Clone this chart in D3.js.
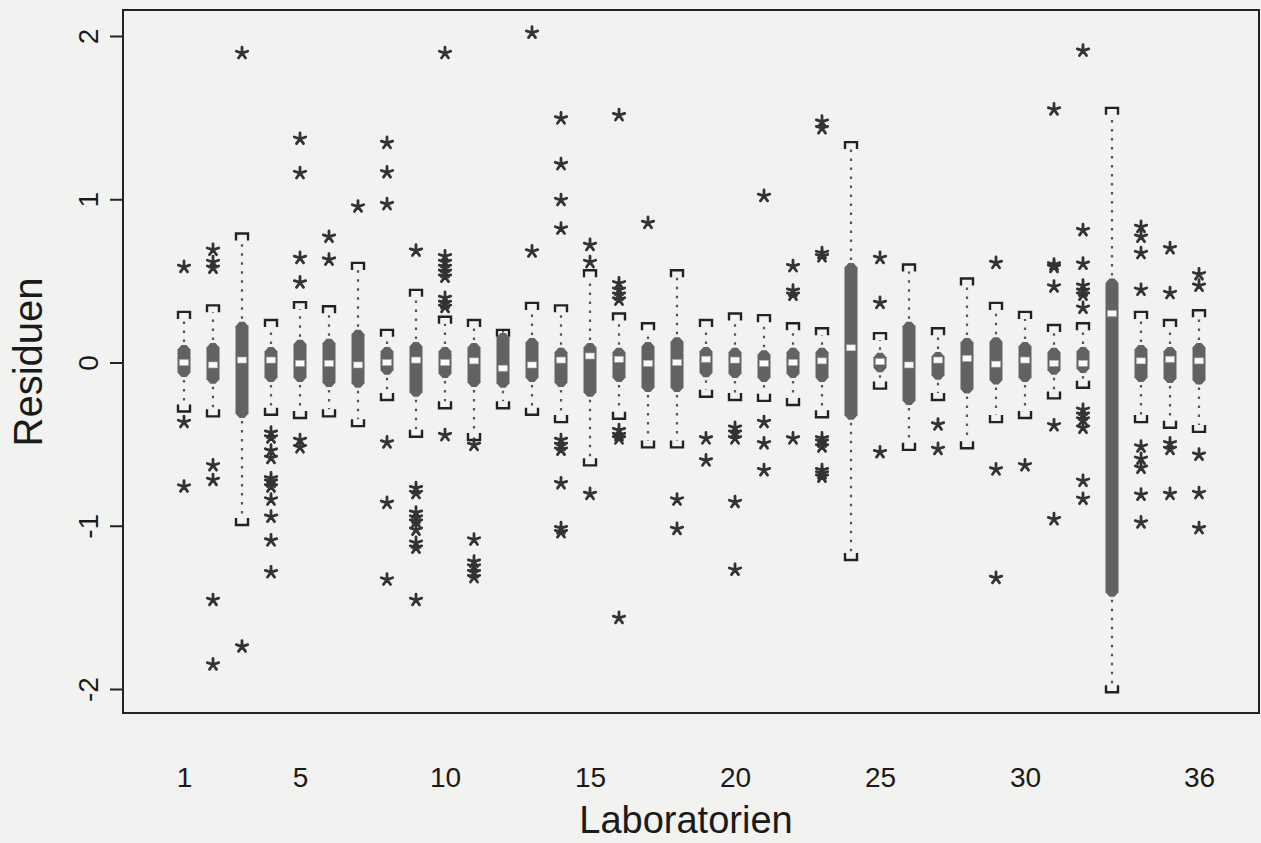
<!DOCTYPE html>
<html>
<head>
<meta charset="utf-8">
<script src="https://cdn.jsdelivr.net/npm/d3@7"></script>
<style>
  html, body { margin: 0; padding: 0; background: #f2f2f0; }
  svg { display: block; }
  text { font-family: "Liberation Sans", Arial, Helvetica, sans-serif; fill: #1a1a1a; }
</style>
</head>
<body>
<svg id="chart" width="1261" height="843"></svg>
<script>
// ---- data ----
const labs = d3.range(1, 37);
const q3  = [0.107,0.12,0.25,0.095,0.14,0.145,0.2,0.095,0.125,0.095,0.12,0.18,0.15,0.09,0.12,0.09,0.125,0.155,0.095,0.09,0.075,0.09,0.09,0.61,0.06,0.25,0.065,0.15,0.155,0.125,0.09,0.095,0.515,0.107,0.095,0.12];
const med = [0,-0.015,0.015,0.015,-0.005,-0.005,-0.015,0,0.015,0,0.01,-0.035,-0.015,0.015,0.04,0.02,-0.005,0,0.02,0.015,-0.005,0,0.01,0.09,0.005,-0.015,0.015,0.025,-0.01,0.015,-0.005,-0.005,0.3,0.01,0.02,0.01];
const q1  = [-0.089,-0.13,-0.34,-0.12,-0.12,-0.15,-0.155,-0.075,-0.21,-0.095,-0.15,-0.155,-0.12,-0.15,-0.21,-0.12,-0.18,-0.18,-0.09,-0.095,-0.12,-0.095,-0.12,-0.35,-0.06,-0.26,-0.105,-0.19,-0.135,-0.12,-0.075,-0.065,-1.435,-0.12,-0.125,-0.135];
const whiskHi = [0.31,0.35,0.79,0.26,0.37,0.345,0.61,0.2,0.445,0.28,0.26,0.2,0.365,0.35,0.565,0.3,0.24,0.565,0.26,0.3,0.29,0.24,0.21,1.35,0.18,0.6,0.21,0.515,0.365,0.31,0.23,0.24,1.56,0.31,0.26,0.32];
const whiskLo = [-0.3,-0.33,-0.995,-0.32,-0.34,-0.33,-0.39,-0.23,-0.455,-0.28,-0.475,-0.28,-0.32,-0.365,-0.63,-0.345,-0.52,-0.52,-0.21,-0.23,-0.235,-0.26,-0.335,-1.21,-0.16,-0.535,-0.23,-0.525,-0.365,-0.34,-0.22,-0.155,-2.02,-0.365,-0.4,-0.425];
const outliers = [
  [0.585,-0.365,-0.76],
  [0.69,0.615,0.58,-0.63,-0.72,-1.455,-1.85],
  [1.895,-1.74],
  [-0.43,-0.46,-0.54,-0.585,-0.71,-0.73,-0.76,-0.84,-0.945,-1.09,-1.285],
  [1.37,1.16,0.64,0.49,-0.475,-0.52],
  [0.77,0.63],
  [0.955],
  [1.345,1.165,0.97,-0.49,-0.86,-1.33],
  [0.685,-0.77,-0.8,-0.92,-0.95,-0.975,-1.025,-1.105,-1.135,-1.455],
  [1.895,0.65,0.615,0.585,0.555,0.525,0.395,0.365,0.34,-0.445],
  [-0.505,-1.085,-1.22,-1.25,-1.285,-1.315],
  [],
  [2.02,0.68],
  [1.495,1.215,0.995,0.82,-0.475,-0.505,-0.535,-0.74,-1.015,-1.04],
  [0.72,0.615,-0.805],
  [1.515,0.485,0.445,0.415,0.385,-0.415,-0.445,-0.465,-1.565],
  [0.855],
  [-0.84,-1.02],
  [-0.465,-0.6],
  [-0.4,-0.43,-0.465,-0.855,-1.27],
  [1.02,-0.365,-0.495,-0.66],
  [0.59,0.44,0.415,-0.465],
  [1.475,1.435,0.67,0.65,-0.465,-0.485,-0.515,-0.66,-0.68,-0.7],
  [],
  [0.64,0.365,-0.55],
  [],
  [-0.38,-0.53],
  [],
  [0.61,-0.655,-1.32],
  [-0.63],
  [1.55,0.6,0.585,0.465,-0.385,-0.96],
  [1.91,0.81,0.605,0.47,0.44,0.415,0.335,-0.29,-0.32,-0.35,-0.4,-0.725,-0.835],
  [],
  [0.83,0.77,0.67,0.445,-0.515,-0.59,-0.645,-0.81,-0.98],
  [0.7,0.425,-0.495,-0.53,-0.805],
  [0.54,0.47,-0.565,-0.8,-1.015]
];
const xTickLabels = [1, 5, 10, 15, 20, 25, 30, 36];
const yTickValues = [-2, -1, 0, 1, 2];
const xTitle = "Laboratorien";
const yTitle = "Residuen";

// ---- layout ----
const svg = d3.select("#chart");
const frame = { left: 123, top: 10, right: 1259, bottom: 713 };
const x = d3.scaleLinear().domain([1, 36]).range([184, 1199]);
const y = d3.scaleLinear().domain([-2, 2]).range([689, 36]);

const rows = labs.map((lab, i) => ({
  lab, q1: q1[i], med: med[i], q3: q3[i], lo: whiskLo[i], hi: whiskHi[i], out: outliers[i]
}));

// frame
svg.append("rect")
  .attr("x", frame.left).attr("y", frame.top)
  .attr("width", frame.right - frame.left).attr("height", frame.bottom - frame.top)
  .attr("fill", "none").attr("stroke", "#222").attr("stroke-width", 2);

// y axis
const yAxis = svg.append("g")
  .attr("transform", `translate(${frame.left},0)`)
  .call(d3.axisLeft(y).tickValues(yTickValues).tickSize(13).tickPadding(14).tickFormat(d3.format("d")));
yAxis.select(".domain").remove();
yAxis.selectAll(".tick line").attr("stroke", "#222").attr("stroke-width", 2);
yAxis.selectAll(".tick text")
  .attr("font-size", 28).attr("fill", "#1a1a1a")
  .attr("text-anchor", "middle")
  .attr("transform", "rotate(-90)")
  .attr("x", 0).attr("y", -35).attr("dy", "0.35em")
  .text(d => d < 0 ? "-" + Math.abs(d) : d);

// x axis (labels only)
const xAxis = svg.append("g")
  .attr("transform", `translate(0,${frame.bottom})`)
  .call(d3.axisBottom(x).tickValues(xTickLabels).tickSize(0).tickPadding(0).tickFormat(d3.format("d")));
xAxis.select(".domain").remove();
xAxis.selectAll(".tick text").attr("font-size", 28).attr("fill", "#1a1a1a")
  .attr("dy", null).attr("y", 74);

// titles
svg.append("text").attr("x", 686).attr("y", 833)
  .attr("text-anchor", "middle").attr("font-size", 38).text(xTitle);
svg.append("text").attr("transform", `translate(42,362) rotate(-90)`)
  .attr("text-anchor", "middle").attr("font-size", 40).text(yTitle);

// boxes
const bw = 6.5, ch = 4.5, cw = 6;
const g = svg.append("g");
const box = g.selectAll("g.box").data(rows).join("g").attr("class", "box");

// whiskers (dotted)
box.append("line")
  .attr("x1", d => x(d.lab)).attr("x2", d => x(d.lab))
  .attr("y1", d => y(d.q3) - 3).attr("y2", d => y(d.hi) + 7)
  .attr("stroke", "#555").attr("stroke-width", 2.2).attr("stroke-dasharray", "2.5,6.5");
box.append("line")
  .attr("x1", d => x(d.lab)).attr("x2", d => x(d.lab))
  .attr("y1", d => y(d.q1) + 3).attr("y2", d => y(d.lo) - 7)
  .attr("stroke", "#555").attr("stroke-width", 2.2).attr("stroke-dasharray", "2.5,6.5");

// caps
box.append("path")
  .attr("d", d => { const cx = x(d.lab), cy = y(d.hi);
    return `M${cx - cw},${cy + 7}V${cy}H${cx + cw}V${cy + 7}`; })
  .attr("fill", "none").attr("stroke", "#222").attr("stroke-width", 2.4);
box.append("path")
  .attr("d", d => { const cx = x(d.lab), cy = y(d.lo);
    return `M${cx - cw},${cy - 7}V${cy}H${cx + cw}V${cy - 7}`; })
  .attr("fill", "none").attr("stroke", "#222").attr("stroke-width", 2.4);

// box body (chamfered)
box.append("path")
  .attr("d", d => {
    const cx = x(d.lab), t = y(d.q3), b = y(d.q1);
    const c = Math.min(ch, (b - t) / 2);
    return `M${cx - bw},${t + c}L${cx - 2.5},${t}L${cx + 2.5},${t}L${cx + bw},${t + c}` +
           `L${cx + bw},${b - c}L${cx + 2.5},${b}L${cx - 2.5},${b}L${cx - bw},${b - c}Z`;
  })
  .attr("fill", "#626262");

// median
box.append("rect")
  .attr("x", d => x(d.lab) - 4.5).attr("y", d => y(d.med) - 3)
  .attr("width", 9).attr("height", 6)
  .attr("fill", "#fafafa").attr("stroke", "#aaa").attr("stroke-width", 0.6);

// outliers (asterisks)
const starPath = (() => {
  const r = 6; let p = "";
  for (let k = 0; k < 5; k++) {
    const a = -Math.PI / 2 + k * 2 * Math.PI / 5;
    p += `M0,0L${(r * Math.cos(a)).toFixed(2)},${(r * Math.sin(a)).toFixed(2)}`;
  }
  return p;
})();
const pts = rows.flatMap(d => d.out.map(v => ({ lab: d.lab, v })));
g.selectAll("path.star").data(pts).join("path").attr("class", "star")
  .attr("transform", d => `translate(${x(d.lab)},${y(d.v)})`)
  .attr("d", starPath)
  .attr("fill", "none").attr("stroke", "#333").attr("stroke-width", 2.8).attr("stroke-linecap", "round");
</script>
</body>
</html>
